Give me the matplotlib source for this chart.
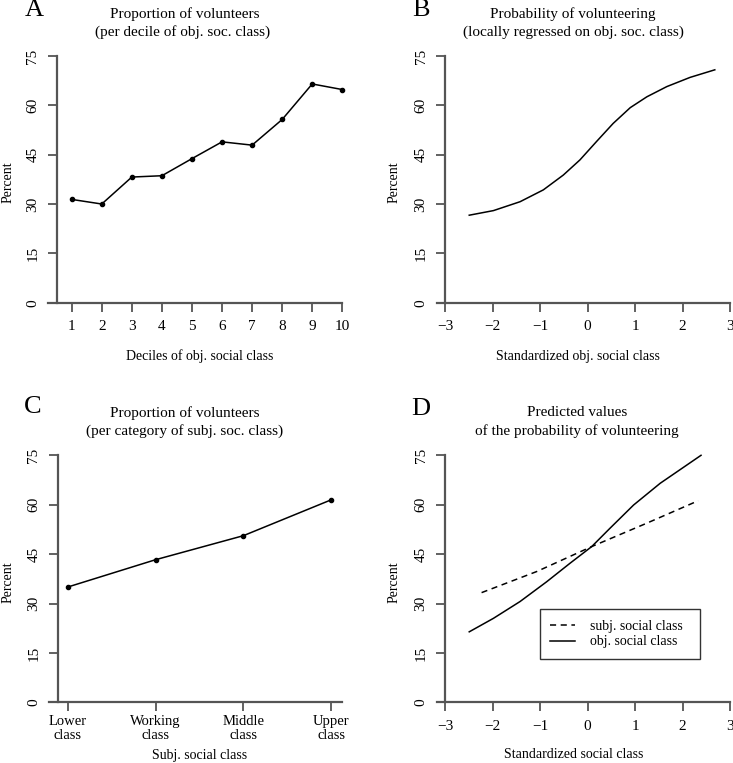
import matplotlib
matplotlib.use("Agg")
import matplotlib.pyplot as plt

plt.rcParams['font.family'] = ['Liberation Serif', 'DejaVu Serif']

# panel A: proportion of volunteers per decile
deciles = [1, 2, 3, 4, 5, 6, 7, 8, 9, 10]
pct_decile = [31.4, 30.0, 38.2, 38.6, 43.8, 48.9, 47.9, 55.7, 66.5, 64.8]

# panel B: locally regressed probability
loess_x = [-2.49, -1.98, -1.42, -0.93, -0.51, -0.16, 0.19, 0.54, 0.90, 1.25, 1.67, 2.16, 2.68]
loess_y = [26.6, 28.0, 30.7, 34.3, 38.8, 43.4, 49.0, 54.5, 59.3, 62.6, 65.7, 68.5, 70.8]

# panel C: per category of subjective class
subj_cats = ["Lower\nclass", "Working\nclass", "Middle\nclass", "Upper\nclass"]
pct_subj = [35.0, 43.3, 50.6, 61.5]

# panel D: predicted values
subj_x = [-2.23, -1.07, 0.09, 1.25, 2.33]
subj_y = [33.3, 39.7, 47.3, 54.4, 61.2]
obj_x = [-2.49, -1.98, -1.42, -0.86, -0.37, 0.09, 0.47, 0.97, 1.53, 2.39]
obj_y = [21.4, 25.5, 30.6, 36.6, 42.2, 47.3, 52.8, 59.9, 66.5, 75.0]

W, H = 733, 763
fig = plt.figure(figsize=(W / 100, H / 100), dpi=100)

AX_COL = '#555555'
yticks = [0, 15, 30, 45, 60, 75]


def make_ax(left, right, top, bottom, xlim, yspine_x):
    ax = fig.add_axes([left / W, 1 - bottom / H, (right - left) / W, (bottom - top) / H])
    ax.set_xlim(*xlim)
    ax.set_ylim(0, 75)
    for s in ['top', 'right']:
        ax.spines[s].set_visible(False)
    ax.spines['left'].set_position(('data', yspine_x))
    for s in ['left', 'bottom']:
        ax.spines[s].set_color(AX_COL)
        ax.spines[s].set_linewidth(1.6)
    ax.tick_params(colors=AX_COL, width=1.3, length=6.5, labelsize=11,
                   labelcolor='black', pad=6)
    ax.set_yticks(yticks)
    ax.set_yticklabels([str(v) for v in yticks], rotation=90, va='center')
    ax.patch.set_alpha(0)
    return ax


def ftext(x, y, s, **kw):
    fig.text(x / W, 1 - y / H, s, ha='center', va='center', **kw)


# A
axA = make_ax(48.3, 342.3, 56.0, 302.7, (0.222, 10), 0.5)
axA.plot(deciles, pct_decile, color='black', lw=1.1, marker='o', ms=3, clip_on=False)
axA.set_xticks(deciles)

# B
axB = make_ax(436.7, 730, 56.0, 302.7, (-3.175, 3), -3)
axB.plot(loess_x, loess_y, color='black', lw=1.1)
axB.set_xticks([-3, -2, -1, 0, 1, 2, 3])

# C
axC = make_ax(49.3, 342.3, 455.3, 702.3, (0.79, 4.125), 0.886)
axC.plot([1, 2, 3, 4], pct_subj, color='black', lw=1.1, marker='o', ms=3, clip_on=False)
axC.set_xticks([1, 2, 3, 4])
axC.set_xticklabels(subj_cats, linespacing=1.05, fontsize=10.5)
axC.tick_params(axis='x', pad=3)

# D
axD = make_ax(436.7, 730, 455.3, 702.3, (-3.175, 3), -3)
axD.plot(subj_x, subj_y, color='black', lw=1.1, dashes=(4, 3), label='subj. social class')
axD.plot(obj_x, obj_y, color='black', lw=1.1, label='obj. social class', clip_on=False)
axD.set_xticks([-3, -2, -1, 0, 1, 2, 3])
leg = axD.legend(loc='upper left',
                 bbox_to_anchor=(539.7 / W, 1 - 660 / H, 160.6 / W, 50.7 / H),
                 bbox_transform=fig.transFigure, mode='expand', fancybox=False,
                 framealpha=1, edgecolor='#333333', fontsize=10, handlelength=1.8,
                 borderpad=0.75, labelspacing=0.2, borderaxespad=0, handletextpad=1.1)
leg.get_frame().set_linewidth(1.0)

# titles
ftext(185, 14, "Proportion of volunteers", fontsize=11)
ftext(183, 32, "(per decile of obj. soc. class)", fontsize=11)
ftext(573, 14, "Probability of volunteering", fontsize=11)
ftext(573, 32, "(locally regressed on obj. soc. class)", fontsize=11)
ftext(185, 413, "Proportion of volunteers", fontsize=11)
ftext(185, 431.5, "(per category of subj. soc. class)", fontsize=11)
ftext(577, 413, "Predicted values", fontsize=11)
ftext(577, 431.5, "of the probability of volunteering", fontsize=11)

# panel letters
ftext(34, 10, "A", fontsize=19)
ftext(421, 10, "B", fontsize=19)
ftext(33, 407, "C", fontsize=19)
ftext(421, 409, "D", fontsize=19)

# axis labels
ftext(199.7, 356, "Deciles of obj. social class", fontsize=10)
ftext(577.7, 356, "Standardized obj. social class", fontsize=10)
ftext(199.7, 755, "Subj. social class", fontsize=10)
ftext(573.5, 755, "Standardized social class", fontsize=10)
ftext(8, 182, "Percent", fontsize=10, rotation=90)
ftext(394, 182, "Percent", fontsize=10, rotation=90)
ftext(8, 581.7, "Percent", fontsize=10, rotation=90)
ftext(394, 581.7, "Percent", fontsize=10, rotation=90)

fig.savefig("out.png", dpi=100)
